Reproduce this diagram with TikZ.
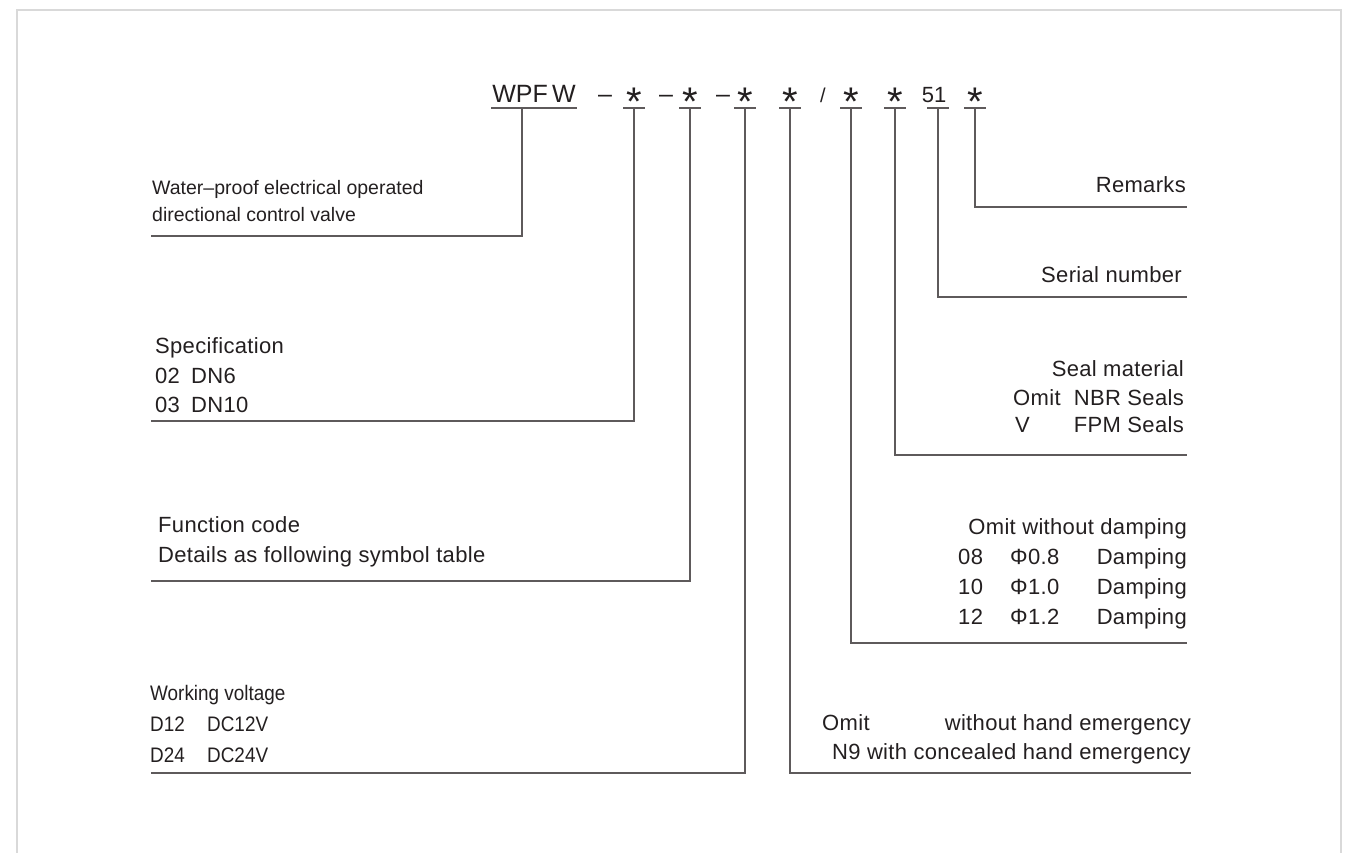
\documentclass[tikz,border=0pt]{standalone}
\usepackage{fontspec}
\setmainfont{Liberation Sans}
\newfontfamily\lblfont[LetterSpace=1.5]{Liberation Sans}
\newfontfamily\narrowfont[FakeStretch=0.9]{Liberation Sans}
\definecolor{txt}{HTML}{231F20}
\definecolor{lc}{HTML}{5E5A5B}
\definecolor{fr}{HTML}{D9D9D9}
\begin{document}
\begin{tikzpicture}[x=1pt,y=-1pt,
  lbl/.style={inner sep=0pt, text=txt, font=\fontsize{22}{26}\lblfont},
  nlbl/.style={inner sep=0pt, text=txt, font=\fontsize{21}{25}\narrowfont},
  slbl/.style={inner sep=0pt, text=txt, font=\fontsize{19.5}{23}\selectfont},
  code/.style={inner sep=0pt, text=txt, font=\fontsize{25}{30}\selectfont},
  ast/.style={inner sep=0pt, text=txt, font=\fontsize{40}{44}\selectfont},
  ln/.style={draw=lc, line width=1.3pt},
  frame/.style={draw=fr, line width=2pt}]
\useasboundingbox (0,0) rectangle (1355,853);
\draw[frame] (17,853) -- (17,10) -- (1341,10) -- (1341,853);

% code row
\node[code, anchor=base] (wpfw) at (534,103) {WPF\,W};
\node[code, anchor=base] (d1) at (605,103) {–};
\node[code, anchor=base] (d2) at (666,103) {–};
\node[code, anchor=base] (d3) at (723,103) {–};
\node[ast, anchor=base] (a1) at (634,116) {*};
\node[ast, anchor=base] (a2) at (690,116) {*};
\node[ast, anchor=base] (a3) at (745,116) {*};
\node[ast, anchor=base] (a4) at (790,116) {*};
\node[code, anchor=base, font=\fontsize{20}{24}\selectfont] (sl) at (823,103) {/};
\node[ast, anchor=base] (a5) at (851,116) {*};
\node[ast, anchor=base] (a6) at (895,116) {*};
\node[code, anchor=base, font=\fontsize{22}{26}\selectfont] (n51) at (934,103) {51};
\node[ast, anchor=base] (a7) at (975,116) {*};

% underlines
\draw[ln] (491,108) -- (577,108);
\foreach \x in {634,690,745,790,851,895,938,975} {\draw[ln] (\x-11,108) -- (\x+11,108);}

% connector endpoints
\coordinate (uw) at (522,108);
\coordinate (u1) at (634,108);
\coordinate (u2) at (690,108);
\coordinate (u3) at (745,108);
\coordinate (u4) at (790,108);
\coordinate (u5) at (851,108);
\coordinate (u6) at (895,108);
\coordinate (u51) at (938,108);
\coordinate (u7) at (975,108);
\coordinate (ew) at (151,236);
\coordinate (e1) at (151,421);
\coordinate (e2) at (151,581);
\coordinate (e3) at (151,773);
\coordinate (e4) at (1191,773);
\coordinate (e5) at (1187,643);
\coordinate (e6) at (1187,455);
\coordinate (e51) at (1187,297);
\coordinate (e7) at (1187,207);
\draw[ln] (uw) |- (ew);
\draw[ln] (u1) |- (e1);
\draw[ln] (u2) |- (e2);
\draw[ln] (u3) |- (e3);
\draw[ln] (u4) |- (e4);
\draw[ln] (u5) |- (e5);
\draw[ln] (u6) |- (e6);
\draw[ln] (u51) |- (e51);
\draw[ln] (u7) |- (e7);

% left labels
\node[slbl, anchor=base west] (w1) at (152,195) {Water–proof electrical operated};
\node[slbl, anchor=base west] (w2) at (152,222) {directional control valve};

\node[lbl, anchor=base west] (sp0) at (155,353) {Specification};
\node[lbl, anchor=base west] (sp1) at (155,383) {02};
\node[lbl, anchor=base west] (sp1b) at (191,383) {DN6};
\node[lbl, anchor=base west] (sp2) at (155,412) {03};
\node[lbl, anchor=base west] (sp2b) at (191,412) {DN10};

\node[lbl, anchor=base west] (fc0) at (158,532) {Function code};
\node[lbl, anchor=base west] (fc1) at (158,562) {Details as following symbol table};

\node[nlbl, anchor=base west] (wv0) at (150,700) {Working voltage};
\node[nlbl, anchor=base west] (wv1) at (150,731) {D12};
\node[nlbl, anchor=base west] (wv1b) at (207,731) {DC12V};
\node[nlbl, anchor=base west] (wv2) at (150,762) {D24};
\node[nlbl, anchor=base west] (wv2b) at (207,762) {DC24V};

% right labels
\node[lbl, anchor=base east] (rem) at (1186,193) {Remarks};
\node[lbl, anchor=base east] (ser) at (1182,283) {Serial number};

\node[lbl, anchor=base east] (se0) at (1184,376) {Seal material};
\node[lbl, anchor=base west] (se1) at (1013,405) {Omit};
\node[lbl, anchor=base east] (se1b) at (1184,405) {NBR Seals};
\node[lbl, anchor=base west] (se2) at (1015,432) {V};
\node[lbl, anchor=base east] (se2b) at (1184,432) {FPM Seals};

\node[lbl, anchor=base east] (dm0) at (1187,534) {Omit without damping};
\node[lbl, anchor=base west] (dm1) at (958,564) {08};
\node[lbl, anchor=base west] (dm1b) at (1010,564) {Φ0.8};
\node[lbl, anchor=base east] (dm1c) at (1187,564) {Damping};
\node[lbl, anchor=base west] (dm2) at (958,594) {10};
\node[lbl, anchor=base west] (dm2b) at (1010,594) {Φ1.0};
\node[lbl, anchor=base east] (dm2c) at (1187,594) {Damping};
\node[lbl, anchor=base west] (dm3) at (958,624) {12};
\node[lbl, anchor=base west] (dm3b) at (1010,624) {Φ1.2};
\node[lbl, anchor=base east] (dm3c) at (1187,624) {Damping};

\node[lbl, anchor=base west] (he1) at (822,730) {Omit};
\node[lbl, anchor=base east] (he1b) at (1191,730) {without hand emergency};
\node[lbl, anchor=base east] (he2) at (1191,759) {N9 with concealed hand emergency};
\end{tikzpicture}
\end{document}
